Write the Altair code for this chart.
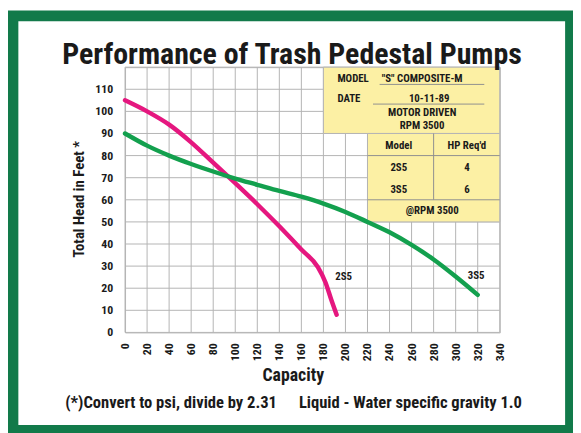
import altair as alt
import pandas as pd

# ---- data ----
capacity_2s5 = [0, 20, 40, 60, 80, 100, 120, 140, 160, 175, 182, 187, 192]
head_2s5 = [105, 100, 94, 86, 76.8, 67.5, 58, 48, 37.5, 29.5, 22.5, 15, 8]
capacity_3s5 = [0, 20, 40, 60, 80, 100, 120, 140, 160, 180, 200, 220, 240, 260, 280, 300, 320]
head_3s5 = [90, 84.5, 80, 76.2, 72.8, 69.6, 66.8, 64, 61.4, 58.3, 54.5, 50, 45.3, 39.6, 33, 25.3, 17]
x_ticks = list(range(0, 341, 20))
y_ticks = list(range(0, 111, 10))
y_grid = list(range(0, 121, 10))

models = ["2S5", "3S5"]
hp_required = ["4", "6"]

FONT = "'Roboto Condensed', Roboto, sans-serif"
MAGENTA = "#e5177f"
GREEN = "#13a04e"
FRAME = "#127a4a"
YELLOW = "#fcf0a4"
GRIDC = "#b4b4b4"
INK = "#1a1a1a"

W, H = 380, 269
xs = alt.Scale(domain=[0, 340], nice=False, zero=False)
ys = alt.Scale(domain=[0, 120], nice=False, zero=False)

curves = pd.DataFrame({
    "capacity": capacity_2s5 + capacity_3s5,
    "head": head_2s5 + head_3s5,
    "model": ["2S5"] * len(capacity_2s5) + ["3S5"] * len(capacity_3s5),
})

# grid
vgrid = alt.Chart(pd.DataFrame({"v": x_ticks})).mark_rule(stroke=GRIDC, strokeWidth=1).encode(
    x=alt.X("v:Q", scale=xs, axis=None), y=alt.value(0), y2=alt.value(H))
hgrid = alt.Chart(pd.DataFrame({"v": y_grid})).mark_rule(stroke=GRIDC, strokeWidth=1).encode(
    y=alt.Y("v:Q", scale=ys, axis=None), x=alt.value(0), x2=alt.value(W))

# tick labels
xlab = alt.Chart(pd.DataFrame({"v": x_ticks})).mark_text(
    font=FONT, fontWeight="bold", fontSize=12, angle=270, align="right",
    baseline="middle", color=INK
).encode(x=alt.X("v:Q", scale=xs, axis=None), y=alt.value(H + 11), text="v:Q")
ylab = alt.Chart(pd.DataFrame({"v": y_ticks})).mark_text(
    font=FONT, fontWeight="bold", fontSize=12, align="right",
    baseline="middle", color=INK
).encode(y=alt.Y("v:Q", scale=ys, axis=None), x=alt.value(-12), text="v:Q")

curve_layer = alt.Chart(curves).mark_line(
    strokeWidth=4.5, interpolate="monotone", strokeCap="round"
).encode(
    x=alt.X("capacity:Q", scale=xs, axis=None),
    y=alt.Y("head:Q", scale=ys, axis=None),
    color=alt.Color("model:N", scale=alt.Scale(domain=models, range=[MAGENTA, GREEN]), legend=None),
    detail="model:N",
)

# table boxes (layout)
boxes = pd.DataFrame({
    "x": [180, 220], "x2": [340, 340], "y": [90, 50], "y2": [120, 90],
})
box_layer = alt.Chart(boxes).mark_rect(fill=YELLOW, stroke=GRIDC, strokeWidth=1).encode(
    x=alt.X("x:Q", scale=xs, axis=None), x2="x2:Q", y=alt.Y("y:Q", scale=ys, axis=None), y2="y2:Q")

lines = pd.DataFrame({
    "x": [220, 220, 280, 231, 225],
    "x2": [340, 340, 280, 326, 326],
    "y": [80, 60, 60, 112.2, 103.3],
    "y2": [80, 60, 90, 112.2, 103.3],
})
line_layer = alt.Chart(lines).mark_rule(stroke="#8f8f8f", strokeWidth=1).encode(
    x=alt.X("x:Q", scale=xs, axis=None), x2="x2:Q", y=alt.Y("y:Q", scale=ys, axis=None), y2="y2:Q")

table_text = pd.DataFrame({
    "t": ["MODEL", "DATE"],
    "x": [192.7, 192.7], "y": [114.7, 105.5],
})
tt_left = alt.Chart(table_text).mark_text(
    font=FONT, fontWeight="bold", fontSize=11, align="left", baseline="middle", color=INK
).encode(x=alt.X("x:Q", scale=xs, axis=None), y=alt.Y("y:Q", scale=ys, axis=None), text="t:N")

table_text_c = pd.DataFrame({
    "t": ["\"S\" COMPOSITE-M", "10-11-89", "MOTOR DRIVEN", "RPM 3500",
          "Model", "HP Req'd", models[0], hp_required[0], models[1], hp_required[1], "@RPM 3500"],
    "x": [269.6, 276, 269.6, 269.6, 248.4, 310.2, 248.4, 310.2, 248.4, 310.2, 278.8],
    "y": [114.7, 105.5, 99.2, 93.2, 84.4, 84.4, 74.4, 74.4, 64.3, 64.3, 55],
})
tt_center = alt.Chart(table_text_c).mark_text(
    font=FONT, fontWeight="bold", fontSize=11, align="center", baseline="middle", color=INK
).encode(x=alt.X("x:Q", scale=xs, axis=None), y=alt.Y("y:Q", scale=ys, axis=None), text="t:N")

curve_labels = pd.DataFrame({"t": models, "x": [198.3, 318.6], "y": [24.9, 25.3]})
cl_layer = alt.Chart(curve_labels).mark_text(
    font=FONT, fontWeight="bold", fontSize=11, align="center", baseline="middle", color=INK
).encode(x=alt.X("x:Q", scale=xs, axis=None), y=alt.Y("y:Q", scale=ys, axis=None), text="t:N")

one = pd.DataFrame({"a": [0]})

title = alt.Chart(one).mark_text(
    text="Performance of Trash Pedestal Pumps", font=FONT, fontWeight="bold",
    fontSize=30.3, align="center", baseline="alphabetic", color=INK
).encode(x=alt.value(169.3), y=alt.value(-3.5))

ytitle = alt.Chart(one).mark_text(
    text="Total Head in Feet *", font=FONT, fontWeight="bold", fontSize=15,
    align="center", baseline="middle", angle=270, color=INK
).encode(x=alt.value(-46.7), y=alt.value(134))

xtitle = alt.Chart(one).mark_text(
    text="Capacity", font=FONT, fontWeight="bold", fontSize=18,
    align="center", baseline="middle", color=INK
).encode(x=alt.value(170.6), y=alt.value(313))

foot1 = alt.Chart(one).mark_text(
    text="(*)Convert to psi, divide by 2.31", font=FONT, fontWeight="bold", fontSize=16.8,
    align="left", baseline="middle", color=INK
).encode(x=alt.value(-60.7), y=alt.value(340.7))

foot2 = alt.Chart(one).mark_text(
    text="Liquid - Water specific gravity 1.0", font=FONT, fontWeight="bold", fontSize=16.8,
    align="left", baseline="middle", color=INK
).encode(x=alt.value(176.3), y=alt.value(340.7))

frame = alt.Chart(one).mark_rect(filled=False, stroke=FRAME, strokeWidth=11).encode(
    x=alt.value(-113.7), x2=alt.value(451.8), y=alt.value(-52), y2=alt.value(368.5))

chart = alt.layer(
    vgrid, hgrid, box_layer, line_layer, curve_layer, xlab, ylab, tt_left, tt_center, cl_layer,
    title, ytitle, xtitle, foot1, foot2, frame
).properties(
    width=W, height=H,
    autosize=alt.AutoSizeParams(type="none"),
    padding={"left": 118.7, "top": 57, "right": 74.3, "bottom": 99},
    background="white",
).configure_view(
    stroke=GRIDC, strokeWidth=1
)

chart.save("out.html", embed_options={"renderer": "svg", "actions": False})
